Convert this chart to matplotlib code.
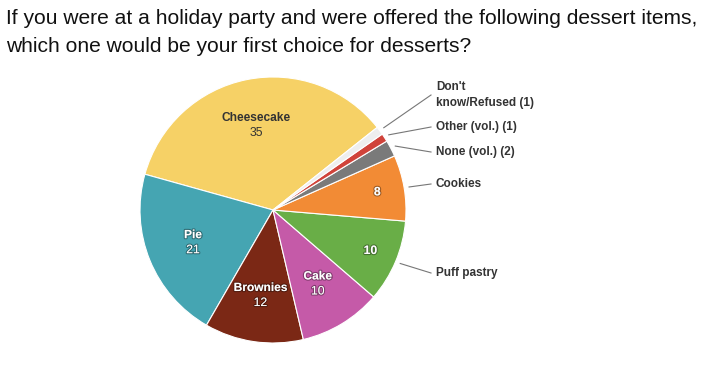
import matplotlib
matplotlib.use("Agg")
import matplotlib.pyplot as plt
import matplotlib.patheffects as pe
import numpy as np

plt.rcParams['font.family'] = ['Liberation Sans', 'DejaVu Sans']

categories = ["Cheesecake", "Pie", "Brownies", "Cake", "Puff pastry", "Cookies",
              "None (vol.)", "Other (vol.)", "Don't\nknow/Refused"]
values = [35, 21, 12, 10, 10, 8, 2, 1, 1]
colors = ["#F6D166", "#45A5B2", "#7B2815", "#C55AA8", "#69AE47", "#F28B35",
          "#7A7A7A", "#D0433A", "#EEEEEE"]
# label mode: 'in' = name+value inside, 'val' = value inside & name outside, 'out' = outside only
modes = ["in", "in", "in", "in", "val", "val", "out", "out", "out"]

W, H = 713, 373
fig = plt.figure(figsize=(W / 100, H / 100), dpi=100)
ax = fig.add_axes([0, 0, 1, 1])

cx, cy, R = 273, H - 210, 133
start = 38.4
wedges, _ = ax.pie(values, colors=colors, startangle=start, counterclock=True,
                   center=(cx, cy), radius=R, frame=True,
                   wedgeprops=dict(edgecolor='white', linewidth=0.8))
ax.set_xlim(0, W)
ax.set_ylim(0, H)
ax.set_aspect('equal')
ax.axis('off')

# outside label y positions (pixels from top)
out_label_y = {4: 273, 5: 184, 6: 152, 7: 127, 8: 95}

outline = [pe.withStroke(linewidth=1.6, foreground=(0, 0, 0, 0.35))]
for i, (w, name, v, m) in enumerate(zip(wedges, categories, values, modes)):
    mid = np.deg2rad((w.theta1 + w.theta2) / 2)
    dark = name == "Cheesecake"
    col = "#333333" if dark else "white"
    eff = None if dark else outline
    if m == "in":
        r = 0.65 * R
        x, y = cx + r * np.cos(mid), cy + r * np.sin(mid)
        ax.text(x, y + 7.5, name, ha='center', va='center', fontsize=8.6,
                fontweight='bold', color=col, path_effects=eff)
        ax.text(x, y - 7.5, str(v), ha='center', va='center', fontsize=8.8,
                color=col, path_effects=eff)
    elif m == "val":
        r = 0.795 * R
        x, y = cx + r * np.cos(mid), cy + r * np.sin(mid)
        ax.text(x, y, str(v), ha='center', va='center', fontsize=8.8,
                fontweight='bold', color=col, path_effects=eff)
    if m in ("val", "out"):
        r0 = R + 5
        x0, y0 = cx + r0 * np.cos(mid), cy + r0 * np.sin(mid)
        ly = H - out_label_y[i]
        ax.plot([x0, 431], [y0, ly], color="#777777", lw=0.8)
        label = name if m == "val" else f"{name} ({v})"
        ax.text(436, ly, label, ha='left', va='center', fontsize=8.5,
                fontweight='bold', color="#333333", linespacing=1.35)

fig.text(6 / W, 1 - 19 / H, "If you were at a holiday party and were offered the following dessert items,",
         ha='left', va='center', fontsize=15.1, color='#111111')
fig.text(6 / W, 1 - 47 / H, "which one would be your first choice for desserts?",
         ha='left', va='center', fontsize=15.1, color='#111111')

fig.savefig("out.png", dpi=100, facecolor='white')
